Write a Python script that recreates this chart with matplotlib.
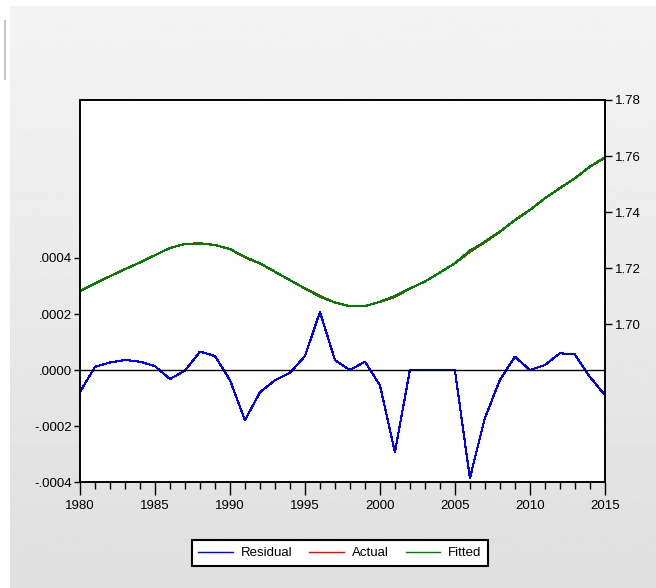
import numpy as np
from matplotlib import pyplot as plt
from matplotlib.ticker import FixedLocator, MultipleLocator

years = list(range(1980, 2016))

residual = [-0.000078, 0.000012, 0.000027, 0.000036, 0.000030, 0.000014,
            -0.000032, -0.000002, 0.000066, 0.000050, -0.000036, -0.000179,
            -0.000079, -0.000036, -0.000010, 0.000050, 0.000207, 0.000036,
            0.000000, 0.000030, -0.000054, -0.000293, 0.000000, 0.000000,
            0.000000, 0.000000, -0.000386, -0.000171, -0.000036, 0.000048,
            0.000000, 0.000018, 0.000060, 0.000056, -0.000024, -0.000089]

fitted = [1.7118, 1.7145, 1.7171, 1.7196, 1.7220, 1.7246,
          1.7272, 1.7286, 1.7288, 1.7282, 1.7268, 1.7240,
          1.7217, 1.7187, 1.7157, 1.7127, 1.7098, 1.7077,
          1.7064, 1.7064, 1.7080, 1.7100, 1.7127, 1.7152,
          1.7184, 1.7217, 1.7262, 1.7294, 1.7330, 1.7371,
          1.7407, 1.7449, 1.7485, 1.7520, 1.7562, 1.7595]

actual = [1.71172, 1.71451, 1.71713, 1.71964, 1.72203, 1.72461,
          1.72717, 1.72860, 1.72887, 1.72825, 1.72676, 1.72382,
          1.72162, 1.71866, 1.71569, 1.71275, 1.71001, 1.70774,
          1.70640, 1.70643, 1.70795, 1.70971, 1.71270, 1.71520,
          1.71840, 1.72170, 1.72581, 1.72923, 1.73296, 1.73715,
          1.74070, 1.74492, 1.74856, 1.75206, 1.75618, 1.75941]

left_ticks = [-0.0004, -0.0002, 0.0, 0.0002, 0.0004]
left_labels = ['-.0004', '-.0002', '.0000', '.0002', '.0004']
right_ticks = [1.70, 1.72, 1.74, 1.76, 1.78]
right_labels = ['1.70', '1.72', '1.74', '1.76', '1.78']
year_ticks = [1980, 1985, 1990, 1995, 2000, 2005, 2010, 2015]

plt.rcParams['font.family'] = ['Liberation Sans', 'DejaVu Sans']

fig = plt.figure(figsize=(6.56, 5.88), dpi=100)
fig.patch.set_facecolor('white')

# grey gradient panel behind everything
bg = fig.add_axes([0.015, 0, 0.985, 0.99], zorder=-10)
grad = np.linspace(0.955, 0.875, 256).reshape(-1, 1)
bg.imshow(grad, cmap='gray', vmin=0, vmax=1, aspect='auto', extent=[0, 1, 0, 1])
bg.axis('off')
fig.add_artist(plt.Line2D([0.008, 0.008], [0.865, 0.965], color='#c8c8c8', lw=1.5))

lw = 0.8

ax = fig.add_axes([0.122, 0.180, 0.800, 0.650])
ax.set_facecolor('white')
ax.plot(years, residual, color='#0000ff', lw=lw, antialiased=False)
ax.axhline(0, color='black', lw=1.0)
ax.set_xlim(1980, 2015)
ax.set_ylim(-0.0004, 0.000964)
ax.set_yticks(left_ticks)
ax.set_yticklabels(left_labels)
ax.xaxis.set_major_locator(FixedLocator(year_ticks))
ax.xaxis.set_minor_locator(MultipleLocator(1))
ax.tick_params(axis='x', which='major', length=9, width=1, labelsize=9.5, pad=4)
ax.tick_params(axis='x', which='minor', length=5, width=1)
ax.tick_params(axis='y', length=4, width=1, labelsize=9.5, pad=2)

ax2 = ax.twinx()
ax2.plot(years, actual, color='#ff0000', lw=lw, antialiased=False)
ax2.plot(years, fitted, color='#008000', lw=lw, antialiased=False)
ax2.set_ylim(1.6436, 1.78)
ax2.set_yticks(right_ticks)
ax2.set_yticklabels(right_labels)
ax2.tick_params(axis='y', length=5, width=1, labelsize=9.5, pad=2)

for a in (ax, ax2):
    for s in a.spines.values():
        s.set_linewidth(1.2)

handles = [plt.Line2D([], [], color='#0000ff', lw=1.0),
           plt.Line2D([], [], color='#ff0000', lw=1.0),
           plt.Line2D([], [], color='#008000', lw=1.0)]
leg = fig.legend(handles, ['Residual', 'Actual', 'Fitted'], ncol=3,
                 loc='center', bbox_to_anchor=(0.518, 0.0595), fontsize=9.5,
                 handlelength=2.6, columnspacing=1.3, handletextpad=0.6,
                 fancybox=False, framealpha=1, edgecolor='black',
                 borderpad=0.5)
leg.get_frame().set_linewidth(1.5)

fig.savefig('out.png', dpi=100)
